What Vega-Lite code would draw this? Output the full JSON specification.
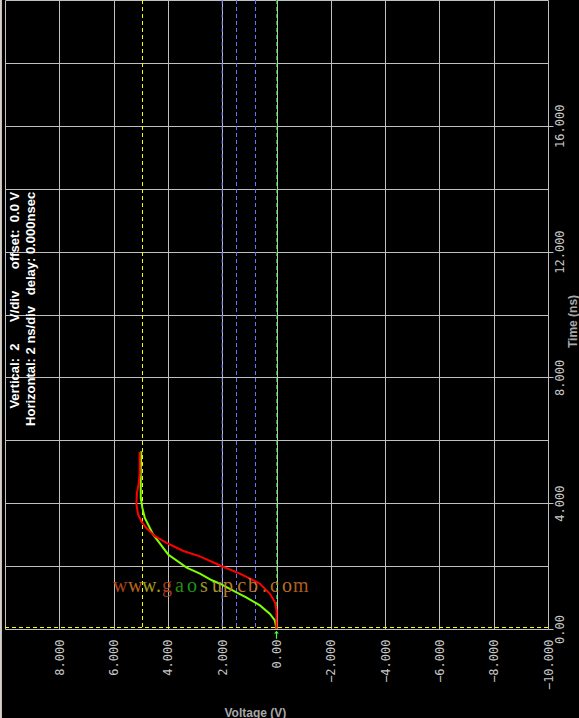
{
  "$schema": "https://vega.github.io/schema/vega-lite/v6.json",
  "width": 543,
  "height": 629,
  "autosize": {"type": "none"},
  "padding": {"left": 5, "top": 0, "right": 31, "bottom": 89},
  "background": "#000000",
  "config": {"view": {"stroke": null}},
  "datasets": {
    "vlines": [
      {"V": 4.936, "c": "#ffff00"},
      {"V": 2.0, "c": "#7070ff"},
      {"V": 1.473, "c": "#7070ff"},
      {"V": 0.773, "c": "#7070ff"},
      {"V": 0.0, "c": "#00c000"}
    ],
    "hlines": [{"t": 0.0477, "c": "#ffff00"}],
    "curves": [
      {"s": "green", "t": 0, "V": 0},
      {"s": "green", "t": 0.27, "V": 0.06},
      {"s": "green", "t": 0.48, "V": 0.24},
      {"s": "green", "t": 0.75, "V": 0.61},
      {"s": "green", "t": 1.0, "V": 1.1},
      {"s": "green", "t": 1.21, "V": 1.58},
      {"s": "green", "t": 1.44, "V": 2.08},
      {"s": "green", "t": 1.55, "V": 2.38},
      {"s": "green", "t": 1.76, "V": 2.82},
      {"s": "green", "t": 1.95, "V": 3.31},
      {"s": "green", "t": 2.37, "V": 3.99},
      {"s": "green", "t": 3.0, "V": 4.54},
      {"s": "green", "t": 3.53, "V": 4.85},
      {"s": "green", "t": 3.85, "V": 4.94},
      {"s": "green", "t": 4.17, "V": 5.0},
      {"s": "green", "t": 5.0, "V": 5.0},
      {"s": "green", "t": 5.65, "V": 4.98},
      {"s": "red", "t": 0, "V": 0},
      {"s": "red", "t": 0.59, "V": 0},
      {"s": "red", "t": 0.85, "V": 0.055},
      {"s": "red", "t": 1.12, "V": 0.24},
      {"s": "red", "t": 1.44, "V": 0.61},
      {"s": "red", "t": 1.76, "V": 1.35},
      {"s": "red", "t": 2.02, "V": 2.08},
      {"s": "red", "t": 2.31, "V": 2.82},
      {"s": "red", "t": 2.48, "V": 3.43},
      {"s": "red", "t": 2.74, "V": 4.05},
      {"s": "red", "t": 2.95, "V": 4.48},
      {"s": "red", "t": 3.21, "V": 4.79},
      {"s": "red", "t": 3.43, "V": 4.98},
      {"s": "red", "t": 3.65, "V": 5.1},
      {"s": "red", "t": 3.97, "V": 5.16},
      {"s": "red", "t": 4.33, "V": 5.14},
      {"s": "red", "t": 4.6, "V": 5.08},
      {"s": "red", "t": 4.92, "V": 5.04},
      {"s": "red", "t": 5.63, "V": 5.04}
    ],
    "watermark": [
      {"ch": "w", "V": 6.02, "t": 1.18, "c": "#b4481c"},
      {"ch": "w", "V": 5.47, "t": 1.18, "c": "#c06c1c"},
      {"ch": "w", "V": 4.95, "t": 1.18, "c": "#b0a020"},
      {"ch": ".", "V": 4.44, "t": 1.18, "c": "#a8a820"},
      {"ch": "g", "V": 4.22, "t": 1.18, "c": "#a8401c"},
      {"ch": "a", "V": 3.74, "t": 1.18, "c": "#309010"},
      {"ch": "o", "V": 3.3, "t": 1.18, "c": "#18a018"},
      {"ch": "s", "V": 2.82, "t": 1.18, "c": "#a0a030"},
      {"ch": "u", "V": 2.38, "t": 1.18, "c": "#b89830"},
      {"ch": "p", "V": 1.97, "t": 1.18, "c": "#c8802c"},
      {"ch": "c", "V": 1.45, "t": 1.18, "c": "#c87828"},
      {"ch": "b", "V": 1.05, "t": 1.18, "c": "#c07830"},
      {"ch": ".", "V": 0.53, "t": 1.18, "c": "#b87030"},
      {"ch": "c", "V": 0.24, "t": 1.18, "c": "#c07020"},
      {"ch": "o", "V": -0.2, "t": 1.18, "c": "#c07828"},
      {"ch": "m", "V": -0.61, "t": 1.18, "c": "#b86020"}
    ],
    "notes": [
      {"txt": "Vertical:\u00a0 2\u00a0\u00a0\u00a0\u00a0\u00a0 V/div\u00a0\u00a0\u00a0\u00a0\u00a0 offset:\u00a0 0.0 V", "V": 9.48, "t": 13.9},
      {"txt": "Horizontal: 2 ns/div\u00a0\u00a0\u00a0delay: 0.000nsec", "V": 8.9, "t": 13.9}
    ],
    "marker": [{"V": 0, "t": -0.18}],
    "frame": [{"V": 10.15, "t1": 20, "t2": -2.9}]
  },
  "layer": [
    {
      "data": {"name": "vlines"},
      "mark": {"type": "rule", "strokeDash": [4, 3], "strokeWidth": 1},
      "encoding": {
        "x": {
          "field": "V",
          "type": "quantitative",
          "scale": {"domain": [10, -10], "nice": false, "zero": false},
          "axis": {
            "values": [-10, -8, -6, -4, -2, 0, 2, 4, 6, 8, 10],
            "labelExpr": "datum.value == 10 ? '' : (datum.value == 0 ? '0.00' : format(datum.value, '.3f'))",
            "labelAngle": -90,
            "labelAlign": "right",
            "labelBaseline": "middle",
            "labelFont": "DejaVu Sans Mono",
            "labelFontSize": 12,
            "labelColor": "#c8c8c8",
            "labelPadding": 10,
            "labelFlush": false,
            "labelBound": false,
            "labelOverlap": false,
            "ticks": false,
            "tickSize": 0,
            "domain": false,
            "grid": true,
            "gridColor": "#c0c0c0",
            "gridOpacity": 1,
            "gridWidth": 1,
            "title": "Voltage (V)",
            "titleColor": "#a8a8a8",
            "titleFont": "Liberation Sans",
            "titleFontSize": 12,
            "titleFontWeight": "bold",
            "titleAngle": 0,
            "titleAlign": "left",
            "titleBaseline": "alphabetic",
            "titleX": 219,
            "titleY": 87
          }
        },
        "color": {"field": "c", "type": "nominal", "scale": null}
      }
    },
    {
      "data": {"name": "hlines"},
      "mark": {"type": "rule", "strokeDash": [4, 3], "strokeWidth": 1},
      "encoding": {
        "y": {"field": "t", "type": "quantitative"},
        "color": {"field": "c", "type": "nominal", "scale": null}
      }
    },
    {
      "data": {"name": "curves"},
      "mark": {"type": "line", "strokeWidth": 2, "interpolate": "linear"},
      "encoding": {
        "x": {"field": "V", "type": "quantitative"},
        "y": {
          "field": "t",
          "type": "quantitative",
          "scale": {"domain": [0, 20], "nice": false, "zero": false},
          "axis": {
            "orient": "right",
            "values": [0, 2, 4, 6, 8, 10, 12, 14, 16, 18, 20],
            "labelExpr": "(datum.value % 4 == 0 && datum.value < 20) ? (datum.value == 0 ? '0.00' : format(datum.value, '.3f')) : ''",
            "labelAngle": -90,
            "labelAlign": "center",
            "labelBaseline": "top",
            "labelFont": "DejaVu Sans Mono",
            "labelFontSize": 12,
            "labelColor": "#c8c8c8",
            "labelPadding": 1,
            "labelFlush": false,
            "labelBound": false,
            "labelOverlap": false,
            "ticks": true,
            "tickSize": 5,
            "tickColor": "#c0c0c0",
            "tickOpacity": {"condition": {"test": "datum.value % 4 == 0 && datum.value < 20", "value": 1}, "value": 0},
            "domain": false,
            "grid": true,
            "gridColor": "#c0c0c0",
            "gridOpacity": 1,
            "gridWidth": 1,
            "title": "Time (ns)",
            "titleColor": "#a8a8a8",
            "titleFont": "Liberation Sans",
            "titleFontSize": 12,
            "titleFontWeight": "bold",
            "titleAngle": 270,
            "titleAlign": "center",
            "titleBaseline": "top",
            "titleX": 19,
            "titleY": 321
          }
        },
        "color": {
          "field": "s",
          "type": "nominal",
          "scale": {"domain": ["green", "red"], "range": ["#80ff00", "#ff0000"]},
          "legend": null
        },
        "order": {"field": "t", "type": "quantitative"}
      }
    },
    {
      "data": {"name": "watermark"},
      "mark": {"type": "text", "font": "Liberation Serif", "fontSize": 20, "align": "left", "baseline": "alphabetic", "opacity": 0.95},
      "encoding": {
        "x": {"field": "V", "type": "quantitative"},
        "y": {"field": "t", "type": "quantitative"},
        "text": {"field": "ch"},
        "color": {"field": "c", "type": "nominal", "scale": null}
      }
    },
    {
      "data": {"name": "notes"},
      "mark": {"type": "text", "font": "Liberation Sans", "fontSize": 13, "fontWeight": "bold", "angle": 270, "align": "right", "baseline": "alphabetic", "color": "#ffffff"},
      "encoding": {
        "x": {"field": "V", "type": "quantitative"},
        "y": {"field": "t", "type": "quantitative"},
        "text": {"field": "txt"}
      }
    },
    {
      "data": {"name": "marker"},
      "mark": {"type": "point", "shape": "M0,-1L-0.6,-0.3L-0.15,-0.3L-0.15,1L0.15,1L0.15,-0.3L0.6,-0.3Z", "size": 64, "filled": true, "color": "#40ff40", "opacity": 1},
      "encoding": {
        "x": {"field": "V", "type": "quantitative"},
        "y": {"field": "t", "type": "quantitative"}
      }
    },
    {
      "data": {"name": "frame"},
      "mark": {"type": "rule", "color": "#d4d0c8", "strokeWidth": 2},
      "encoding": {
        "x": {"field": "V", "type": "quantitative"},
        "y": {"field": "t1", "type": "quantitative"},
        "y2": {"field": "t2"}
      }
    }
  ]
}
